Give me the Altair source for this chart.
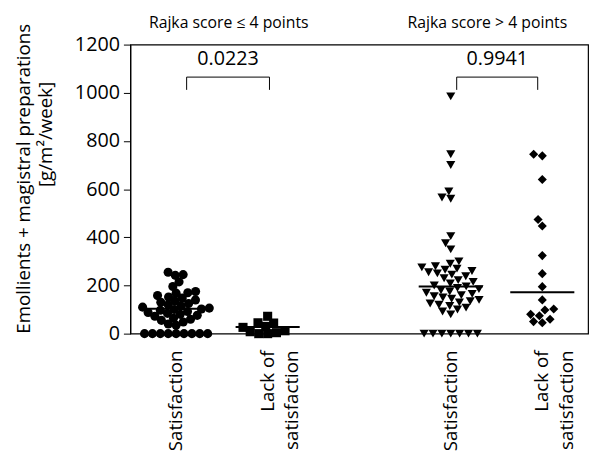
import altair as alt
import pandas as pd
import numpy as np

# ---------------- data ----------------
groups = ["S1", "L1", "S2", "L2"]
group_x = [1, 3, 7, 9]
group_shapes = ["circle", "square", "triangle-down", "diamond"]
label_lines = [["Satisfaction"], ["Lack of", "satisfaction"],
               ["Satisfaction"], ["Lack of", "satisfaction"]]

g1 = [255, 245, 242, 215, 196, 175, 170, 168, 158, 152, 148, 140, 135, 130,
      125, 120, 115, 110, 106, 102, 100, 97, 92, 88, 84, 80, 76, 72, 64, 60,
      55, 48, 40, 35, 0, 0, 0, 0, 0, 0, 0, 0, 0]
g2 = [72, 45, 44, 30, 26, 12, 8, 4, 0, 0]
g3 = [985, 745, 700, 590, 565, 560, 405, 375, 350, 300, 290, 280, 275, 270,
      265, 260, 255, 250, 245, 238, 230, 222, 215, 208, 200, 196, 190, 185,
      180, 175, 170, 165, 160, 155, 150, 145, 140, 135, 130, 125, 120, 115,
      108, 100, 92, 80, 0, 0, 0, 0, 0, 0, 0]
g4 = [745, 738, 640, 474, 447, 324, 249, 195, 140, 102, 98, 80, 74, 60, 50, 45]
values = [g1, g2, g3, g4]

medians = [103, 28, 196, 172]
pvalues = ["0.0223", "0.9941"]
bracket_left = [1.23, 7.13]
bracket_right = [3.04, 8.9]
bracket_top = 1065
bracket_bottom = 1012
pvalue_y = 1140
strata = ["Rajka score \u2264 4 points", "Rajka score > 4 points"]
strata_x = [2.15, 7.8]
y_ticks = [0, 200, 400, 600, 800, 1000, 1200]
y_title = ["Emollients + magistral preparations", "[g/m\u00b2/week]"]

# ---------------- layout helpers ----------------
W, H = 464, 293
XMAX, YMAX = 10, 1200
px_x = W / XMAX
px_y = H / YMAX
DX = [8.0, 9.0, 9.0, 9.0]   # horizontal marker spacing (px) per group
DY = 7.5                    # vertical spacing before markers collide
FONT = "Open Sans"


def swarm(vals, dx_min):
    placed = []
    out = [0.0] * len(vals)
    order = np.argsort(vals, kind="stable")
    for i in order:
        y = vals[i] * px_y
        near = [(px, py) for px, py in placed if abs(py - y) < DY]
        cands = [0.0]
        for px, py in near:
            d = dx_min * float(np.sqrt(1 - ((py - y) / DY) ** 2))
            cands += [px + d, px - d]
        cands.sort(key=lambda c: (round(abs(c), 6), c))
        for c in cands:
            if all(((c - px) / dx_min) ** 2 + ((y - py) / DY) ** 2 >= 1 - 1e-6
                   for px, py in near):
                out[i] = c
                placed.append((c, y))
                break
    return out


rows = []
for g, gx, vals, dx in zip(groups, group_x, values, DX):
    offs = swarm(vals, dx)
    for v, o in zip(vals, offs):
        rows.append({"group": g, "x": gx + o / px_x, "value": v})
pts = pd.DataFrame(rows)

med_df = pd.DataFrame({"x": [gx - 0.7 for gx in group_x],
                       "x2": [gx + 0.7 for gx in group_x],
                       "y": medians})

seg = []
for l, r in zip(bracket_left, bracket_right):
    seg.append({"x": l, "x2": r, "y": bracket_top, "y2": bracket_top})
    seg.append({"x": l, "x2": l, "y": bracket_top, "y2": bracket_bottom})
    seg.append({"x": r, "x2": r, "y": bracket_top, "y2": bracket_bottom})
seg_df = pd.DataFrame(seg)

p_df = pd.DataFrame({"x": [(l + r) / 2 for l, r in zip(bracket_left, bracket_right)],
                     "y": [pvalue_y] * 2, "t": pvalues})
strata_df = pd.DataFrame({"x": strata_x, "t": strata})
lab_df = pd.DataFrame({"x": group_x, "t": label_lines})

xs = alt.Scale(domain=[0, XMAX])
ys = alt.Scale(domain=[0, YMAX], nice=False)

points = alt.Chart(pts).mark_point(filled=True, color="black", size=85, opacity=1).encode(
    x=alt.X("x:Q", scale=xs, axis=None),
    y=alt.Y("value:Q", scale=ys, axis=alt.Axis(
        values=y_ticks, format="d", grid=False, tickSize=7, labelPadding=4,
        labelFontSize=20, labelFont=FONT, labelColor="black",
        tickColor="black", domainColor="black", title=None)),
    shape=alt.Shape("group:N", scale=alt.Scale(domain=groups, range=group_shapes), legend=None),
)

med = alt.Chart(med_df).mark_rule(color="black", strokeWidth=2).encode(
    x=alt.X("x:Q", scale=xs), x2="x2:Q", y=alt.Y("y:Q", scale=ys))

brackets = alt.Chart(seg_df).mark_rule(color="black", strokeWidth=1).encode(
    x=alt.X("x:Q", scale=xs), x2="x2:Q", y=alt.Y("y:Q", scale=ys), y2="y2:Q")

ptext = alt.Chart(p_df).mark_text(font=FONT, fontSize=20, color="black", baseline="middle").encode(
    x=alt.X("x:Q", scale=xs), y=alt.Y("y:Q", scale=ys), text="t:N")

stext = alt.Chart(strata_df).mark_text(font=FONT, fontSize=16, color="black", baseline="middle").encode(
    x=alt.X("x:Q", scale=xs), y=alt.value(-22), text="t:N")

ltext = alt.Chart(lab_df).mark_text(font=FONT, fontSize=19, color="black", angle=270,
                                     align="right", baseline="middle", lineHeight=25).encode(
    x=alt.X("x:Q", scale=xs), y=alt.value(310), text="t")

title1 = alt.Chart(pd.DataFrame({"t": [y_title[0]]})).mark_text(
    font=FONT, fontSize=19, color="black", angle=270, baseline="middle").encode(
    x=alt.value(-108), y=alt.value(136), text="t:N")
title2 = alt.Chart(pd.DataFrame({"t": [y_title[1]]})).mark_text(
    font=FONT, fontSize=19, color="black", angle=270, baseline="middle").encode(
    x=alt.value(-85), y=alt.value(91), text="t:N")

chart = alt.layer(points, med, brackets, ptext, stext, ltext, title1, title2).properties(
    width=W, height=H,
    autosize=alt.AutoSizeParams(type="none"),
    padding={"left": 124, "top": 34, "right": 5, "bottom": 125},
).configure_view(stroke="black", strokeWidth=1.2)

chart.save("out.html", embed_options={"renderer": "svg", "actions": False})
